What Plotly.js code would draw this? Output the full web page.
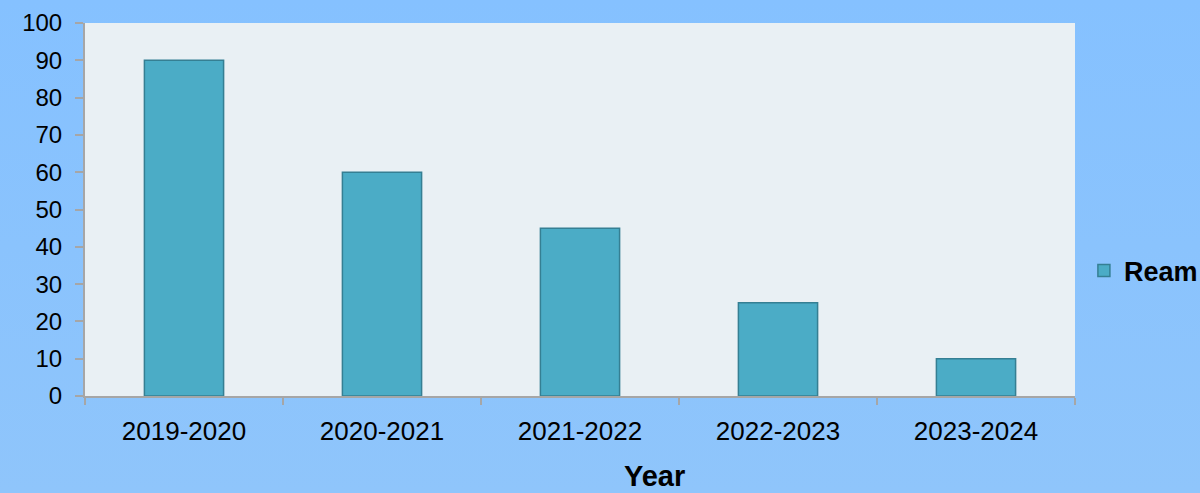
<!DOCTYPE html>
<html>
<head>
<meta charset="utf-8">
<script src="https://cdn.plot.ly/plotly-3.0.1.min.js"></script>
<style>
html,body{margin:0;padding:0;}
body{background:linear-gradient(#85c1ff,#8fc5fb);}
#chart{width:1200px;height:493px;}
</style>
</head>
<body>
<div id="chart"></div>
<script>
const categories = ["2019-2020", "2020-2021", "2021-2022", "2022-2023", "2023-2024"];
const reamValues = [90, 60, 45, 25, 10];
const seriesName = "Ream";
const xTitle = "Year";
const yTickValues = [0, 10, 20, 30, 40, 50, 60, 70, 80, 90, 100];

const trace = {
  type: "bar",
  name: seriesName,
  x: categories,
  y: reamValues,
  width: 0.4,
  marker: {color: "#4bacc6", line: {color: "#357f93", width: 1.5}},
  showlegend: true,
  hoverinfo: "x+y"
};

const layout = {
  width: 1200,
  height: 493,
  margin: {l: 85, r: 125, t: 23, b: 97, pad: 0, autoexpand: false},
  paper_bgcolor: "rgba(0,0,0,0)",
  plot_bgcolor: "#e9f0f4",
  font: {family: "Liberation Sans, Arial, sans-serif", color: "#000"},
  xaxis: {
    type: "category",
    tickson: "boundaries",
    ticks: "outside",
    ticklen: 7,
    tickwidth: 2,
    tickcolor: "#a6a6a6",
    showline: true,
    linecolor: "#a6a6a6",
    linewidth: 2,
    showgrid: false,
    zeroline: false,
    tickfont: {size: 26},
    ticklabelstandoff: 11
  },
  yaxis: {
    range: [0, 100],
    tickvals: yTickValues,
    ticks: "outside",
    ticklen: 8,
    tickwidth: 2,
    tickcolor: "#a6a6a6",
    showline: true,
    linecolor: "#a6a6a6",
    linewidth: 2,
    showgrid: false,
    zeroline: false,
    tickfont: {size: 24},
    ticklabelstandoff: 8
  },
  annotations: [{
    text: "<b>" + xTitle + "</b>",
    xref: "paper", yref: "paper",
    x: 0.575, y: -0.214,
    xanchor: "center", yanchor: "middle",
    showarrow: false,
    borderpad: 0,
    font: {size: 29}
  }],
  legend: {
    x: 1.009,
    y: 0.335,
    xanchor: "left",
    yanchor: "middle",
    bgcolor: "rgba(0,0,0,0)",
    font: {size: 27},
    itemwidth: 30
  },
  showlegend: true
};

Plotly.newPlot("chart", [trace], layout, {displayModeBar: false, staticPlot: true}).then(() => {
  document.querySelectorAll(".legendtext").forEach(t => t.style.fontWeight = "bold");
});
</script>
</body>
</html>
